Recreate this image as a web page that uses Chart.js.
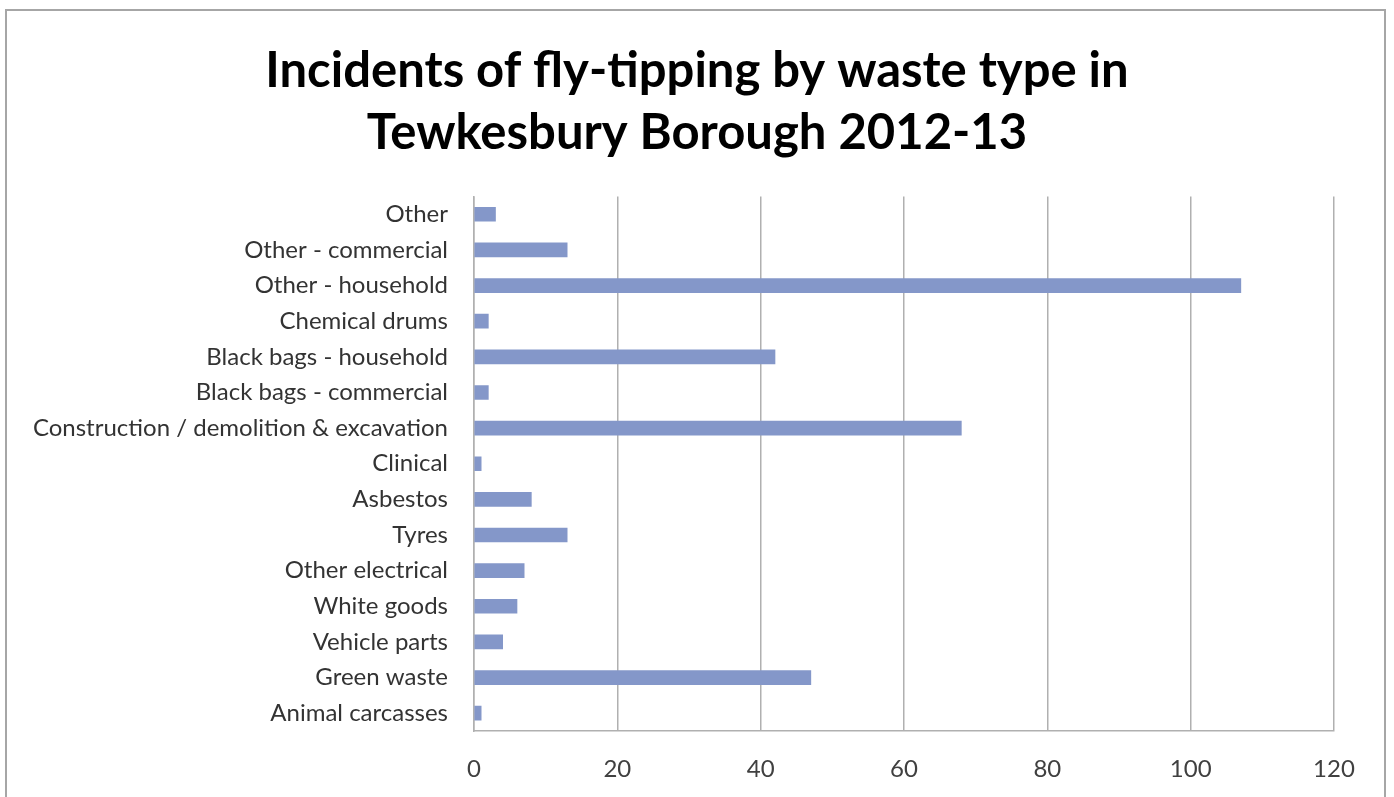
<!DOCTYPE html>
<html>
<head>
<meta charset="utf-8">
<script src="https://cdn.jsdelivr.net/npm/chart.js@4"></script>
<style>
  html, body { margin: 0; padding: 0; background: #fff; overflow: hidden; }
  #wrap { position: relative; width: 1394px; height: 797px; }
  #frame { position: absolute; left: 5px; top: 9px; width: 1381px; height: 800px;
           border: 2px solid #a6a6a6; box-sizing: border-box; }
  canvas { position: absolute; left: 0; top: 0; }
</style>
</head>
<body>
<div id="wrap">
  <div id="frame"></div>
  <canvas id="chart" width="1394" height="797"></canvas>
</div>
<script>
const categories = [
  "Other",
  "Other - commercial",
  "Other - household",
  "Chemical drums",
  "Black bags - household",
  "Black bags - commercial",
  "Construction / demolition & excavation",
  "Clinical",
  "Asbestos",
  "Tyres",
  "Other electrical",
  "White goods",
  "Vehicle parts",
  "Green waste",
  "Animal carcasses"
];
const incidents = [3, 13, 107, 2, 42, 2, 68, 1, 8, 13, 7, 6, 4, 47, 1];
const titleLines = ["Incidents of fly-tipping by waste type in", "Tewkesbury Borough 2012-13"];

const FONT = "Lato, 'Open Sans', sans-serif";

new Chart(document.getElementById("chart"), {
  type: "bar",
  data: {
    labels: categories,
    datasets: [{
      label: "Incidents",
      data: incidents,
      backgroundColor: "#8497c9",
      barThickness: 14
    }]
  },
  options: {
    indexAxis: "y",
    responsive: false,
    animation: false,
    layout: { padding: { top: 10, right: 0, bottom: 0, left: 0 } },
    plugins: {
      legend: { display: false },
      tooltip: { enabled: false },
      title: {
        display: true,
        text: titleLines,
        color: "#000",
        font: { family: FONT, size: 49, weight: "bold", lineHeight: 1.27 },
        padding: { top: 30, bottom: 32 }
      }
    },
    scales: {
      x: {
        min: 0,
        max: 120,
        ticks: { stepSize: 20, color: "#404040", padding: 24, font: { family: FONT, size: 24 } },
        grid: { color: "#b0b0b0", lineWidth: 1.5, drawTicks: false },
        border: { display: true, color: "#b0b0b0", width: 1.5 },
        afterFit: (s) => { s.height = 66; }
      },
      y: {
        ticks: { color: "#333", padding: 26, font: { family: FONT, size: 24 } },
        grid: { display: false, drawTicks: false },
        border: { display: true, color: "#b0b0b0", width: 1.5 },
        afterFit: (s) => { s.width = 474; }
      },
      // empty axis on the right, only to keep the margin there
      yRight: {
        position: "right",
        ticks: { display: false },
        grid: { display: false, drawTicks: false },
        border: { display: false },
        afterFit: (s) => { s.width = 60; }
      }
    }
  }
});
</script>
</body>
</html>
